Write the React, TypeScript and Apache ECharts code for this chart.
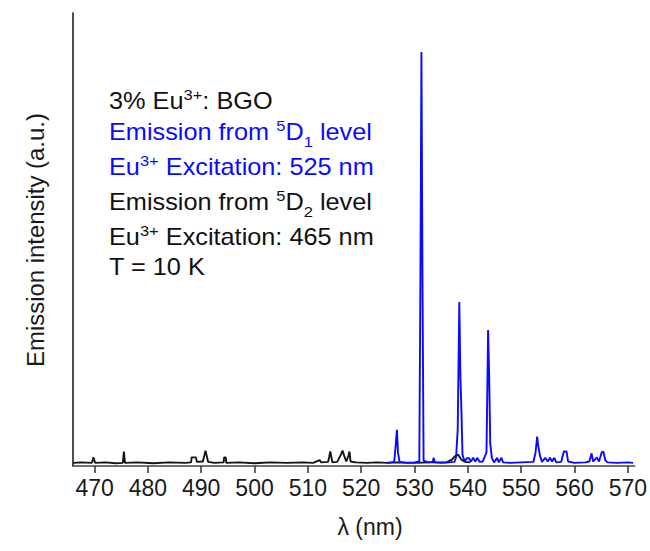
import React, { useEffect, useRef } from "react";
import * as echarts from "echarts";

// Emission from 5D2 level (excitation 465 nm) — black trace
const blackWl = [466.0, 467.5, 469.5, 469.8, 470.1, 472.0, 474.0, 475.3, 475.5, 475.7, 478.0, 481.0, 484.0, 487.0, 488.1, 488.2, 489.0, 489.2, 490.3, 490.6, 490.8, 491.0, 491.3, 492.5, 494.2, 494.3, 494.6, 494.7, 497.0, 500.0, 503.0, 506.0, 509.0, 511.0, 512.2, 512.5, 513.8, 514.0, 514.2, 514.4, 514.6, 515.5, 516.2, 516.5, 516.8, 517.2, 517.6, 517.8, 518.0, 519.0, 521.0, 523.0, 525.0, 527.0, 530.0, 533.0, 536.0, 537.0, 537.6, 538.2, 538.8, 539.5, 540.5];
const blackInt = [0.7, 0.8, 0.7, 1.9, 0.7, 0.8, 0.6, 0.7, 3.2, 0.7, 0.8, 0.6, 0.8, 0.7, 0.8, 1.9, 1.9, 0.9, 1.0, 2.4, 3.4, 2.4, 0.9, 0.7, 0.8, 1.9, 1.9, 0.7, 0.8, 0.6, 0.8, 0.7, 0.8, 0.7, 1.3, 0.8, 0.9, 2.0, 3.2, 2.0, 0.8, 0.9, 2.5, 3.4, 2.3, 1.0, 2.2, 3.2, 1.0, 0.8, 0.7, 0.8, 0.7, 0.8, 0.7, 0.8, 0.8, 1.4, 2.2, 2.5, 1.4, 0.9, 0.8];

// Emission from 5D1 level (excitation 525 nm) — blue trace
const blueWl = [524.8, 525.5, 526.2, 526.5, 526.7, 526.9, 527.2, 528.5, 530.0, 530.9, 531.1, 531.3, 531.5, 531.7, 532.5, 533.4, 533.6, 533.8, 535.0, 536.5, 537.5, 537.8, 538.1, 538.4, 538.6, 538.8, 539.0, 539.4, 539.8, 540.2, 540.6, 541.0, 541.4, 541.8, 542.2, 542.8, 543.5, 543.8, 544.0, 544.2, 544.5, 544.9, 545.5, 545.8, 546.3, 546.6, 548.0, 550.0, 552.3, 552.7, 553.0, 553.2, 553.5, 553.9, 554.5, 555.0, 555.4, 555.8, 556.2, 556.6, 557.5, 558.0, 558.5, 558.8, 560.0, 562.0, 562.8, 563.2, 563.5, 564.2, 564.6, 565.1, 565.4, 565.8, 566.2, 568.0, 570.0, 571.0];
const blueInt = [0.7, 0.8, 0.9, 5.0, 8.0, 3.0, 0.9, 0.7, 0.8, 1.0, 40.0, 91.4, 40.0, 1.2, 0.8, 0.9, 1.8, 0.8, 0.7, 0.8, 0.9, 2.0, 8.0, 36.2, 20.0, 12.0, 2.5, 1.0, 1.7, 1.7, 1.0, 1.8, 1.0, 1.8, 0.9, 1.0, 3.0, 30.0, 20.0, 5.0, 1.8, 0.8, 1.8, 0.8, 1.8, 0.8, 0.7, 0.8, 0.9, 3.0, 6.5, 4.5, 2.4, 0.9, 1.8, 1.0, 1.8, 1.0, 1.8, 0.8, 0.9, 3.2, 3.2, 1.0, 0.7, 0.8, 1.0, 2.8, 1.0, 1.9, 1.0, 3.0, 3.2, 1.2, 0.8, 0.7, 0.8, 0.7];

const xTicks = [470, 480, 490, 500, 510, 520, 530, 540, 550, 560, 570];

const FONT = "'Liberation Sans', Arial, sans-serif";
const BLUE = "#0a0aff";
const BLACK = "#141414";
const TEXT = "#111111";

export default function App() {
  const ref = useRef<HTMLDivElement>(null);
  useEffect(() => {
    if (!ref.current) return;
    const chart = echarts.init(ref.current, null, { renderer: "svg" });
    const fs = 23;
    const rich = (color: string) => ({
      n: { fontSize: fs, fontFamily: FONT, fill: color, color, lineHeight: 26, verticalAlign: "top", padding: [2, 0, 0, 0] },
      sup: { fontSize: 15, fontFamily: FONT, fill: color, color, lineHeight: 15, verticalAlign: "top" },
      sub: { fontSize: 15, fontFamily: FONT, fill: color, color, lineHeight: 31, verticalAlign: "bottom" },
    });
    const line = (y: number, text: string, color: string) => ({
      type: "text",
      x: 109,
      y,
      scaleX: 1.1,
      style: { text, rich: rich(color), fill: color, verticalAlign: "top", align: "left" },
    });
    chart.setOption({
      animation: false,
      backgroundColor: "#fff",
      grid: { left: 72.7, right: 15, top: 13, bottom: 85, containLabel: false },
      xAxis: {
        type: "value",
        min: 465.9,
        max: 571.3,
        axisLine: { show: true, lineStyle: { color: "#444", width: 1.5 } },
        axisTick: { show: true, customValues: xTicks, length: 7, lineStyle: { color: "#333", width: 1.5 } },
        axisLabel: { customValues: xTicks, fontSize: 23, fontFamily: FONT, color: "#1a1a1a", margin: 10 },
        splitLine: { show: false },
      },
      yAxis: {
        type: "value",
        min: 0,
        max: 100,
        axisLine: { show: true, onZero: false, lineStyle: { color: "#111", width: 1.5 } },
        axisTick: { show: false },
        axisLabel: { show: false },
        splitLine: { show: false },
      },
      series: [
        {
          type: "line",
          data: blackWl.map((w, i) => [w, blackInt[i]]),
          showSymbol: false,
          lineStyle: { color: BLACK, width: 1.9 },
          z: 2,
        },
        {
          type: "line",
          data: blueWl.map((w, i) => [w, blueInt[i]]),
          showSymbol: false,
          lineStyle: { color: BLUE, width: 1.9 },
          z: 3,
        },
      ],
      graphic: [
        line(87, "{n|3% Eu}{sup|3+}{n|: BGO}", TEXT),
        line(118.3, "{n|Emission from }{sup|5}{n|D}{sub|1}{n| level}", BLUE),
        line(153, "{n|Eu}{sup|3+}{n| Excitation: 525 nm}", BLUE),
        line(188.7, "{n|Emission from }{sup|5}{n|D}{sub|2}{n| level}", TEXT),
        line(223.7, "{n|Eu}{sup|3+}{n| Excitation: 465 nm}", TEXT),
        line(253.7, "{n|T = 10 K}", TEXT),
        {
          type: "text",
          x: 36,
          y: 240,
          rotation: Math.PI / 2,
          scaleX: 1.04,
          style: { text: "Emission intensity (a.u.)", fontSize: 23, fontFamily: FONT, fill: "#1a1a1a", align: "center", verticalAlign: "middle" },
        },
        {
          type: "text",
          x: 370,
          y: 527,
          style: { text: "λ (nm)", fontSize: 23, fontFamily: FONT, fill: "#1a1a1a", align: "center", verticalAlign: "middle" },
        },
      ],
    });
    return () => chart.dispose();
  }, []);
  return <div ref={ref} style={{ position: "fixed", left: 0, top: 0, width: 650, height: 551 }} />;
}
